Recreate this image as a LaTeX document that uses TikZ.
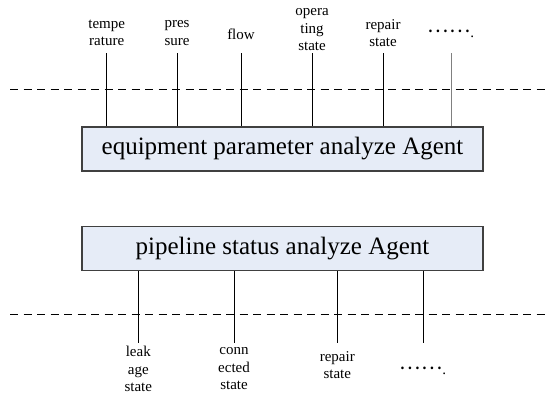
\documentclass[tikz,border=0pt]{standalone}
\usepackage{fontspec}
\setmainfont{Liberation Serif}
\newfontfamily\cjk{Noto Sans CJK SC}
\definecolor{boxfill}{HTML}{E6ECF7}
\definecolor{boxline}{HTML}{404040}
\newcommand{\moredots}{\raisebox{5pt}{\cjk\fontsize{20}{20}\selectfont ……}.}
\begin{document}
\begin{tikzpicture}[
	x=1pt, y=-1pt,
	agent/.style = {draw=boxline, fill=boxfill, line width=1.1pt, minimum width=401pt, minimum height=44pt, inner sep=0pt, font=\fontsize{25}{30}\selectfont},
	lab/.style   = {align=center, inner sep=1pt, font=\fontsize{15}{17.5}\selectfont},
	link/.style  = {line width=1pt},
	sep/.style   = {line width=1pt, dash pattern=on 8pt off 5.5pt}]
	
	\useasboundingbox (0,0) rectangle (547,394);
	
	% the two agents
	\node[agent] (equip) at (282.5,149) {equipment parameter analyze Agent};
	\node[agent] (pipe) at (282.5,248.5) {pipeline status analyze Agent};
	
	% inputs above the first agent
	\node[lab] (temp) at (106.7,33) {tempe\\rature};
	\node[lab] (pres) at (177,33) {pres\\sure};
	\node[lab] (flow) at (241,34) {flow};
	\node[lab] (oper) at (312,30) {opera\\ting\\state};
	\node[lab] (rep1) at (383,33) {repair\\state};
	\node[lab] (more1) at (451,34) {\moredots};
	
	% outputs below the second agent
	\node[lab] (leak) at (138.3,369) {leak\\age\\state};
	\node[lab] (conn) at (234,369) {conn\\ected\\state};
	\node[lab] (rep2) at (337.3,365) {repair\\state};
	\node[lab] (more2) at (423,371) {\moredots};
	
	% ends of the lines and of the dashed borders
	\coordinate (top) at (0,53);
	\coordinate (bot) at (0,343);
	\coordinate (l1) at (10,89);
	\coordinate (r1) at (545,89);
	\coordinate (l2) at (10,314);
	\coordinate (r2) at (545,314);
	
	\draw[sep] (l1) -- (r1);
	\draw[sep] (l2) -- (r2);
	
	% lines into the agents
	\foreach \n in {temp,pres,flow,oper,rep1}
	\draw[link] (\n |- top) -- (\n |- equip.north);
	\draw[link, draw=gray] (more1 |- top) -- (more1 |- equip.north);
	
	\foreach \n in {leak,conn,rep2,more2}
	\draw[link] (\n |- pipe.south) -- (\n |- bot);
\end{tikzpicture}
\end{document}
